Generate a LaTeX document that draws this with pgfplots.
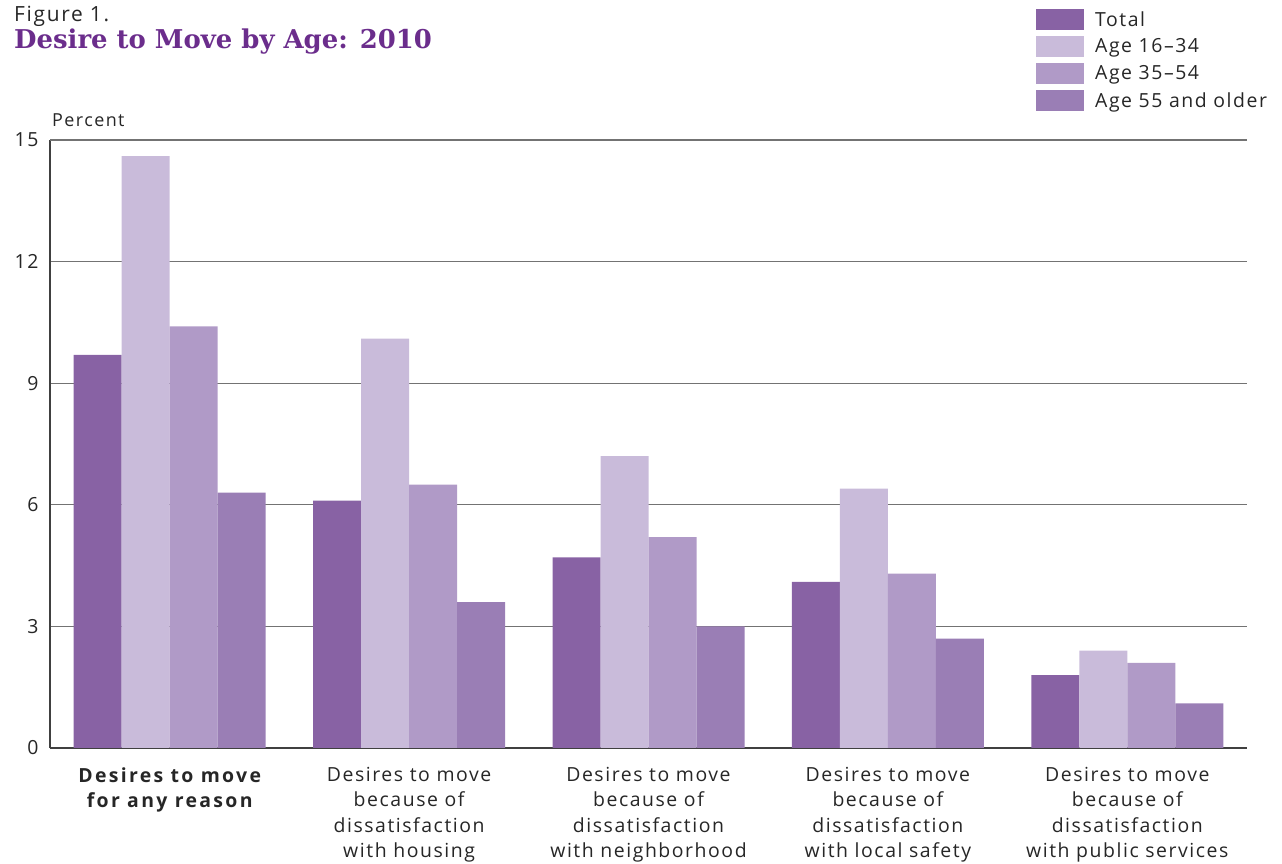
\documentclass[border=0pt]{standalone}
\usepackage{fontspec}
\setmainfont[LetterSpace=8]{Open Sans}
\newfontfamily\boldlab[LetterSpace=12]{Open Sans}
\newfontfamily\titlefont{DejaVu Serif}
\usepackage{pgfplots}
\usepackage{pgfplotstable}
\pgfplotsset{compat=1.18}

\definecolor{cTotal}{HTML}{8862A4}
\definecolor{cYoung}{HTML}{C9BBDA}
\definecolor{cMid}{HTML}{B09AC7}
\definecolor{cOld}{HTML}{9A7EB5}
\definecolor{cTitle}{HTML}{6B2D8C}
\definecolor{cAxis}{HTML}{404040}

\pgfplotstableread{
x total young mid old
0 9.7 14.6 10.4 6.3
1 6.1 10.1 6.5 3.6
2 4.7 7.2 5.2 3.0
3 4.1 6.4 4.3 2.7
4 1.8 2.4 2.1 1.1
}\datatable

\begin{document}
\begin{tikzpicture}
\path[use as bounding box] (0bp,0bp) rectangle (1282bp,864bp);
% headings
\node[anchor=base west, inner sep=0pt, font=\fontsize{21}{24}\selectfont, text=black!85]
  at (14bp,842bp) {Figure 1.};
\node[anchor=base west, inner sep=0pt, font=\titlefont\bfseries\fontsize{26}{30}\selectfont, text=cTitle]
  at (14bp,815bp) {Desire to Move by Age: 2010};
\node[anchor=base west, inner sep=0pt, font=\fontsize{18}{22}\selectfont, text=black!85]
  at (52bp,737bp) {Percent};
\begin{axis}[
    at={(50bp,116bp)}, anchor=south west,
    scale only axis, width=1197bp, height=608bp,
    ybar=0pt, bar width=48bp,
    xmin=-0.5, xmax=4.5,
    ymin=0, ymax=15,
    axis x line*=bottom, axis y line*=left,
    axis line style={cAxis, line width=1.4bp, shorten >=0pt},
    x axis line style={-}, y axis line style={-},
    major tick length=0pt,
    xtick=data,
    xticklabels={{\boldlab\bfseries Desires to move\\\boldlab\bfseries for any reason},
      {Desires to move\\because of\\dissatisfaction\\with housing},
      {Desires to move\\because of\\dissatisfaction\\with neighborhood},
      {Desires to move\\because of\\dissatisfaction\\with local safety},
      {Desires to move\\because of\\dissatisfaction\\with public services}},
    xticklabel style={align=center, anchor=north, text=black!85,
      font=\fontsize{19.5}{25.3}\selectfont, yshift=-16bp},
    ytick={0,3,6,9,12},
    extra y ticks={15},
    extra y tick style={grid style={cAxis, line width=1.4bp}},
    yticklabel style={font=\fontsize{19.5}{22}\selectfont, text=black!85, xshift=-8bp},
    /pgf/number format/assume math mode=true,
    ymajorgrids,
    major grid style={black!55, line width=1.2bp},
    legend style={at={(0.8237,1.2155)}, anchor=north west, draw=none, fill=none,
      inner sep=0pt, row sep=6bp, font=\fontsize{19.5}{22}\selectfont, text=black!85,
      nodes={inner sep=0pt}},
    legend cell align=left,
    legend image code/.code={\fill[#1] (0bp,-10.5bp) rectangle (48bp,10.5bp);},
    /tikz/every odd column/.append style={column sep=11bp},
  ]
\addplot[fill=cTotal, draw=none] table[x=x, y=total] {\datatable};
\addplot[fill=cYoung, draw=none] table[x=x, y=young] {\datatable};
\addplot[fill=cMid, draw=none] table[x=x, y=mid] {\datatable};
\addplot[fill=cOld, draw=none] table[x=x, y=old] {\datatable};
\legend{Total, Age 16--34, Age 35--54, Age 55 and older}
\end{axis}
\end{tikzpicture}
\end{document}
